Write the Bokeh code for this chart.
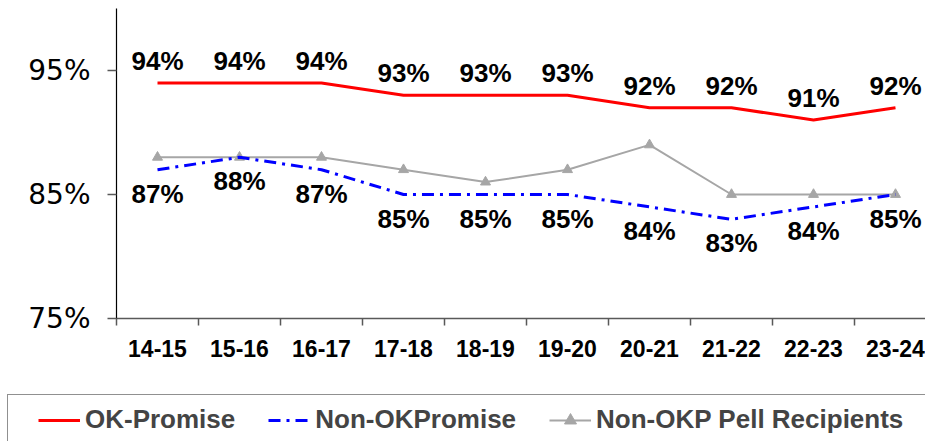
from bokeh.plotting import figure
from bokeh.models import (Range1d, FixedTicker, Legend, LegendItem, ColumnDataSource)
from bokeh.core.properties import value
from bokeh.embed import file_html
from bokeh.resources import INLINE

categories = ["14-15", "15-16", "16-17", "17-18", "18-19", "19-20", "20-21", "21-22", "22-23", "23-24"]
ok_promise = [94, 94, 94, 93, 93, 93, 92, 92, 91, 92]
non_ok_promise = [87, 88, 87, 85, 85, 85, 84, 83, 84, 85]
pell_recipients = [88, 88, 88, 87, 86, 87, 89, 85, 85, 85]
y_ticks = [75, 85, 95]
y_tick_labels = ["75%", "85%", "95%"]

W, H = 925, 441
PX_PER_CAT = 82.0      # horizontal pixels per category
PX_PER_PCT = 12.4      # vertical pixels per percentage point
FIRST_CENTER_PX = 157  # pixel x of the first category centre
Y95_PX = 70            # pixel y of the 95% tick

xs = list(range(len(categories)))
x0 = -FIRST_CENTER_PX / PX_PER_CAT
x1 = x0 + W / PX_PER_CAT
y1 = 95 + Y95_PX / PX_PER_PCT
y0 = y1 - H / PX_PER_PCT

p = figure(width=W, height=H, output_backend="svg", toolbar_location=None,
           x_range=Range1d(x0, x1), y_range=Range1d(y0, y1), min_border=0)
p.outline_line_color = None
p.grid.visible = False
p.background_fill_color = "white"
p.border_fill_color = "white"

# x axis, drawn at the 75% level
xa = p.xaxis[0]
xa.fixed_location = 75
xa.bounds = (-0.5, x1)
xa.ticker = FixedTicker(ticks=xs, minor_ticks=[i - 0.5 for i in xs])
xa.major_label_overrides = {i: c for i, c in enumerate(categories)}
xa.major_tick_line_color = None
xa.major_tick_out = 0
xa.major_tick_in = 0
xa.minor_tick_line_color = "#595959"
xa.minor_tick_out = 7
xa.minor_tick_in = 0
xa.minor_tick_line_width = 1.5
xa.axis_line_color = "#595959"
xa.axis_line_width = 1.5
xa.major_label_text_font = "Liberation Sans"
xa.major_label_text_font_style = "bold"
xa.major_label_text_font_size = "23px"
xa.major_label_text_color = "black"
xa.major_label_standoff = 14

# y axis, drawn at the left edge of the first category
ya = p.yaxis[0]
ya.fixed_location = -0.5
ya.bounds = (75, 100)
ya.ticker = FixedTicker(ticks=y_ticks, minor_ticks=[])
ya.major_label_overrides = {t: l for t, l in zip(y_ticks, y_tick_labels)}
ya.axis_line_color = "black"
ya.axis_line_width = 1.2
ya.major_tick_line_color = "#595959"
ya.major_tick_line_width = 1.5
ya.major_tick_out = 9
ya.major_tick_in = 0
ya.minor_tick_line_color = None
ya.major_label_text_font = "DejaVu Sans"
ya.major_label_text_font_size = "28px"
ya.major_label_text_color = "black"
ya.major_label_standoff = 17

src = ColumnDataSource(dict(
    x=xs, ok=ok_promise, non=non_ok_promise, pell=pell_recipients,
    ok_lbl=[f"{v}%" for v in ok_promise],
    non_lbl=[f"{v}%" for v in non_ok_promise],
))

pell_line = p.line("x", "pell", source=src, line_color="#A6A6A6", line_width=2)
pell_pts = p.scatter("x", "pell", source=src, marker="triangle", size=10,
                     fill_color="#A6A6A6", line_color="#A6A6A6")
non_line = p.line("x", "non", source=src, line_color="#0000FF", line_width=3,
                  line_dash="12 6 3 6")
ok_line = p.line("x", "ok", source=src, line_color="#FF0000", line_width=3)

p.text("x", "ok", text="ok_lbl", source=src, text_align="center", text_baseline="middle",
       y_offset=-22, text_font=value("Liberation Sans"), text_font_style="bold",
       text_font_size="26px", text_color="black")
p.text("x", "non", text="non_lbl", source=src, text_align="center", text_baseline="middle",
       y_offset=24, text_font=value("Liberation Sans"), text_font_style="bold",
       text_font_size="26px", text_color="black")

# legend frame: a box whose right and bottom sides fall outside the canvas
frame_src = ColumnDataSource(dict(x=[], y=[]))
frame_r = p.line("x", "y", source=frame_src, line_alpha=0)
box = Legend(items=[LegendItem(label=" ", renderers=[frame_r])],
             orientation="horizontal", location=(7, -15))
box.border_line_color = "#222222"
box.border_line_width = 1.5
box.background_fill_alpha = 0
box.glyph_width = 1000
box.glyph_height = 60
box.label_height = 20
box.label_standoff = 0
box.label_text_font_size = "8px"
box.padding = 0
box.margin = 0
p.add_layout(box, "center")

# legend entries
legend = Legend(items=[
    LegendItem(label="OK-Promise", renderers=[ok_line]),
    LegendItem(label="Non-OKPromise", renderers=[non_line]),
    LegendItem(label="Non-OKP Pell Recipients", renderers=[pell_line, pell_pts]),
], orientation="horizontal", location=(38, 6))
legend.border_line_color = None
legend.background_fill_alpha = 0
legend.label_text_font = "Liberation Sans"
legend.label_text_font_style = "bold"
legend.label_text_font_size = "26px"
legend.label_standoff = 5
legend.glyph_width = 42
legend.glyph_height = 30
legend.label_height = 30
legend.spacing = 33
legend.padding = 0
legend.margin = 0
p.add_layout(legend, "center")

open("out.html", "w").write(file_html(p, INLINE))
